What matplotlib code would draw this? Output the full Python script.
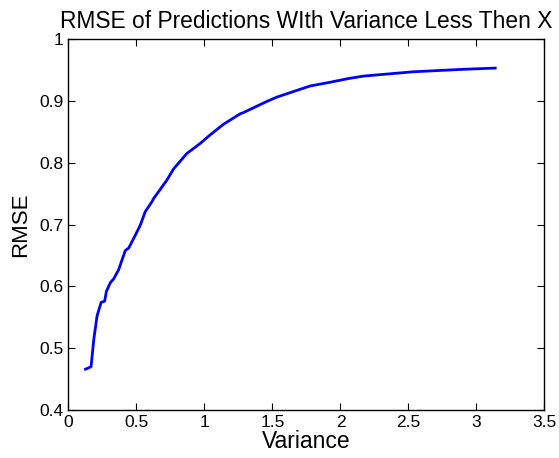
import matplotlib
matplotlib.use("Agg")
import matplotlib.pyplot as plt

plt.rcParams['font.family'] = ['Liberation Sans', 'DejaVu Sans']

# values
variance = [0.125, 0.166, 0.186, 0.21, 0.24, 0.266, 0.279, 0.308, 0.332, 0.369,
            0.394, 0.418, 0.443, 0.492, 0.528, 0.565, 0.614, 0.626, 0.724, 0.773,
            0.871, 0.968, 1.042, 1.139, 1.262, 1.286, 1.458, 1.531, 1.776, 1.922,
            2.057, 2.167, 2.533, 2.90, 3.138]
rmse = [0.466, 0.470, 0.514, 0.552, 0.574, 0.576, 0.592, 0.606, 0.612, 0.627,
        0.643, 0.658, 0.662, 0.683, 0.699, 0.721, 0.737, 0.742, 0.772, 0.790,
        0.815, 0.831, 0.845, 0.862, 0.879, 0.881, 0.899, 0.906, 0.924, 0.930,
        0.936, 0.940, 0.947, 0.951, 0.953]

xticks = [0, 0.5, 1, 1.5, 2, 2.5, 3, 3.5]
xticklabels = ["0", "0.5", "1", "1.5", "2", "2.5", "3", "3.5"]
yticks = [0.4, 0.5, 0.6, 0.7, 0.8, 0.9, 1]
yticklabels = ["0.4", "0.5", "0.6", "0.7", "0.8", "0.9", "1"]

fig = plt.figure(figsize=(5.59, 4.58), dpi=100)
ax = fig.add_axes([0.1225, 0.1048, 0.8515, 0.81])

ax.plot(variance, rmse, color="#0000ff", linewidth=2)

ax.set_xlim(0, 3.5)
ax.set_ylim(0.4, 1)
ax.set_xticks(xticks)
ax.set_xticklabels(xticklabels)
ax.set_yticks(yticks)
ax.set_yticklabels(yticklabels)
ax.tick_params(direction="in", top=True, right=True, labelsize=12.5, length=5, width=0.8)
for s in ax.spines.values():
    s.set_linewidth(1)

ax.set_xlabel("Variance", fontsize=16.5, labelpad=0)
ax.set_ylabel("RMSE", fontsize=16, labelpad=6)
ax.set_title("RMSE of Predictions WIth Variance Less Then X", fontsize=16.4, pad=8)

fig.savefig("out.png", dpi=100)
